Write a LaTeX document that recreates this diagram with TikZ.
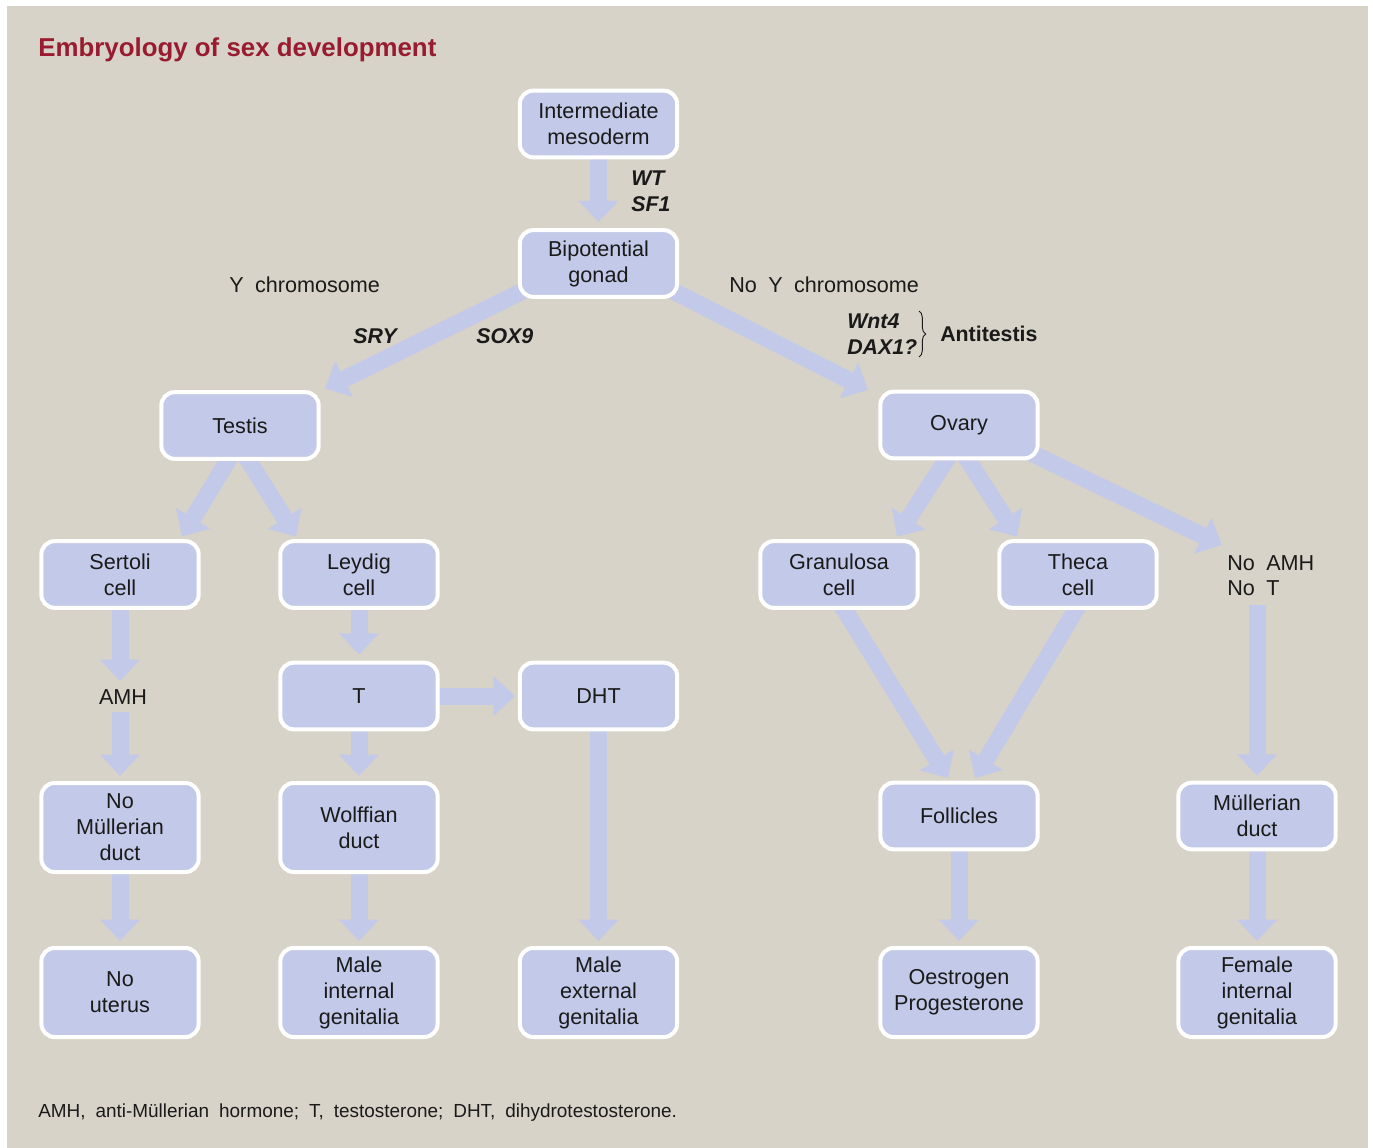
\documentclass[tikz,border=0pt]{standalone}
\usepackage{fontspec}
\setmainfont{Liberation Sans}[WordSpace=1.9]
\newfontfamily\titlefont{Liberation Sans}
\usetikzlibrary{arrows.meta,calc,decorations.pathreplacing}
\definecolor{bgc}{HTML}{D7D3C8}
\definecolor{boxc}{HTML}{C3C9E8}
\definecolor{titlec}{HTML}{981B30}
\definecolor{txt}{HTML}{1A1A1A}
\pgfdeclarelayer{back}
\pgfsetlayers{back,main}
\begin{document}
\begin{tikzpicture}[x=0.75pt,y=-0.75pt,
 box/.style={draw=white, line width=3pt, fill=boxc, rounded corners=10pt, minimum width=118pt, minimum height=50pt, align=center, font=\fontsize{16.2}{19.5}\selectfont, text=txt, inner sep=0pt},
 tall/.style={box, minimum height=66.75pt},
 flow/.style={draw=boxc, line width=12.75pt, -{Triangle[width=29pt,length=16pt]}},
 lbl/.style={font=\fontsize{16.2}{19.5}\selectfont, text=txt, inner sep=0pt},
 gene/.style={font=\fontsize{16}{19.5}\selectfont\bfseries\itshape, text=txt, inner sep=0pt}]
\useasboundingbox (0,0) rectangle (1373,1148);
\begin{pgfonlayer}{back}
\fill[white] (0,0) rectangle (1373,1148);
\fill[bgc] (7,6) rectangle (1368,1148);
\end{pgfonlayer}

% title and footnote
\node[anchor=base west, inner sep=0pt, text=titlec, font=\titlefont\fontsize{19.4}{23}\selectfont\bfseries] (title) at (38,57) {Embryology of sex development};
\node[anchor=base west, inner sep=0pt, text=txt, font=\fontsize{14.2}{17}\selectfont] (foot) at (38,1117) {AMH, anti-Müllerian hormone; T, testosterone; DHT, dihydrotestosterone.};

% boxes
\node[box] (im) at (598.5,124) {Intermediate\\mesoderm};
\node[box] (bg) at (598.5,263.5) {Bipotential\\gonad};
\node[box] (testis) at (240,425.5) {Testis};
\node[box] (ovary) at (959,425) {Ovary};
\node[box] (sertoli) at (120,574.5) {Sertoli\\cell};
\node[box] (leydig) at (359,574.5) {Leydig\\cell};
\node[box] (granulosa) at (839,574.5) {Granulosa\\cell};
\node[box] (theca) at (1078,574.5) {Theca\\cell};
\node[box] (t) at (359,696) {T};
\node[box] (dht) at (598.5,696) {DHT};
\node[tall] (nomull) at (120,827.5) {No\\Müllerian\\duct};
\node[tall] (wolff) at (359,827.5) {Wolffian\\duct};
\node[box] (foll) at (959,816) {Follicles};
\node[box] (mull) at (1257,816) {Müllerian\\duct};
\node[tall] (nout) at (120,992.5) {No\\uterus};
\node[tall] (maleint) at (359,992.5) {Male\\internal\\genitalia};
\node[tall] (maleext) at (598.5,992.5) {Male\\external\\genitalia};
\node[tall] (oestr) at (959,992.5) {Oestrogen\\Progesterone};
\node[tall] (femint) at (1257,992.5) {Female\\internal\\genitalia};

% labels
\node[lbl] (amh) at (123,697) {AMH};
\node[lbl, anchor=base west] (noamh1) at (1227,570) {No AMH};
\node[lbl, anchor=base west] (noamh2) at (1227,595) {No T};
\node[lbl, anchor=base west] (ychr) at (229,292) {Y chromosome};
\node[lbl, anchor=base west] (noychr) at (729,292) {No Y chromosome};
\node[gene, anchor=base west] (wt) at (631,186) {WT};
\node[gene, anchor=base west] (sf1) at (631,212) {SF1};
\node[gene, anchor=base west] (sry) at (353,343) {SRY};
\node[gene, anchor=base west] (sox9) at (476,343) {SOX9};
\node[gene, anchor=base west] (wnt4) at (847,328) {Wnt4};
\node[gene, anchor=base west] (dax1) at (847,354) {DAX1?};
\node[lbl, anchor=base west, font=\fontsize{16}{19.5}\selectfont\bfseries] (anti) at (940,341) {Antitestis};
\draw[txt, line width=0.7pt, decorate, decoration={brace, amplitude=5pt}] (919,311) -- (919,357);

% connectors
\begin{pgfonlayer}{back}
\draw[flow] (im.south) -- ($(bg.north)+(0,-6)$);
\draw[flow] ($(bg.center)+(-40,10)$) -- ($(testis.center)+(85,-37)$);
\draw[flow] ($(bg.center)+(40,10)$) -- ($(ovary.center)+(-91,-35)$);
\draw[flow] ($(testis.center)+(0,15)$) -- ($(sertoli.center)+(62,-38)$);
\draw[flow] ($(testis.center)+(-4,15)$) -- ($(leydig.center)+(-63,-38)$);
\draw[flow] ($(ovary.center)+(0,15)$) -- ($(granulosa.center)+(58,-38)$);
\draw[flow] ($(ovary.center)+(-4,15)$) -- ($(theca.center)+(-61,-38)$);
\draw[flow] ($(ovary.center)+(41,13)$) -- ($(noamh1.base west)+(-5,-25)$);
\draw[flow] (sertoli.south) -- ($(amh.center)+(-3,-16)$);
\draw[flow] ($(amh.center)+(-3,15)$) -- ($(nomull.north)+(0,-5)$);
\draw[flow] (nomull.south) -- ($(nout.north)+(0,-5)$);
\draw[flow] (leydig.south) -- ($(t.north)+(0,-6)$);
\draw[flow] (t.east) -- ($(dht.west)+(-3,0)$);
\draw[flow] (t.south) -- ($(wolff.north)+(0,-5)$);
\draw[flow] (wolff.south) -- ($(maleint.north)+(0,-5)$);
\draw[flow] (dht.south) -- ($(maleext.north)+(0,-5)$);
\draw[flow] ($(granulosa.center)+(-7,15)$) -- ($(foll.center)+(-11,-38)$);
\draw[flow] ($(theca.center)+(10,15)$) -- ($(foll.center)+(16,-38)$);
\draw[flow] (foll.south) -- ($(oestr.north)+(0,-5)$);
\draw[flow] ($(noamh2.base west)+(30,10)$) -- ($(mull.north)+(0,-5)$);
\draw[flow] (mull.south) -- ($(femint.north)+(0,-5)$);
\end{pgfonlayer}
\end{tikzpicture}
\end{document}
